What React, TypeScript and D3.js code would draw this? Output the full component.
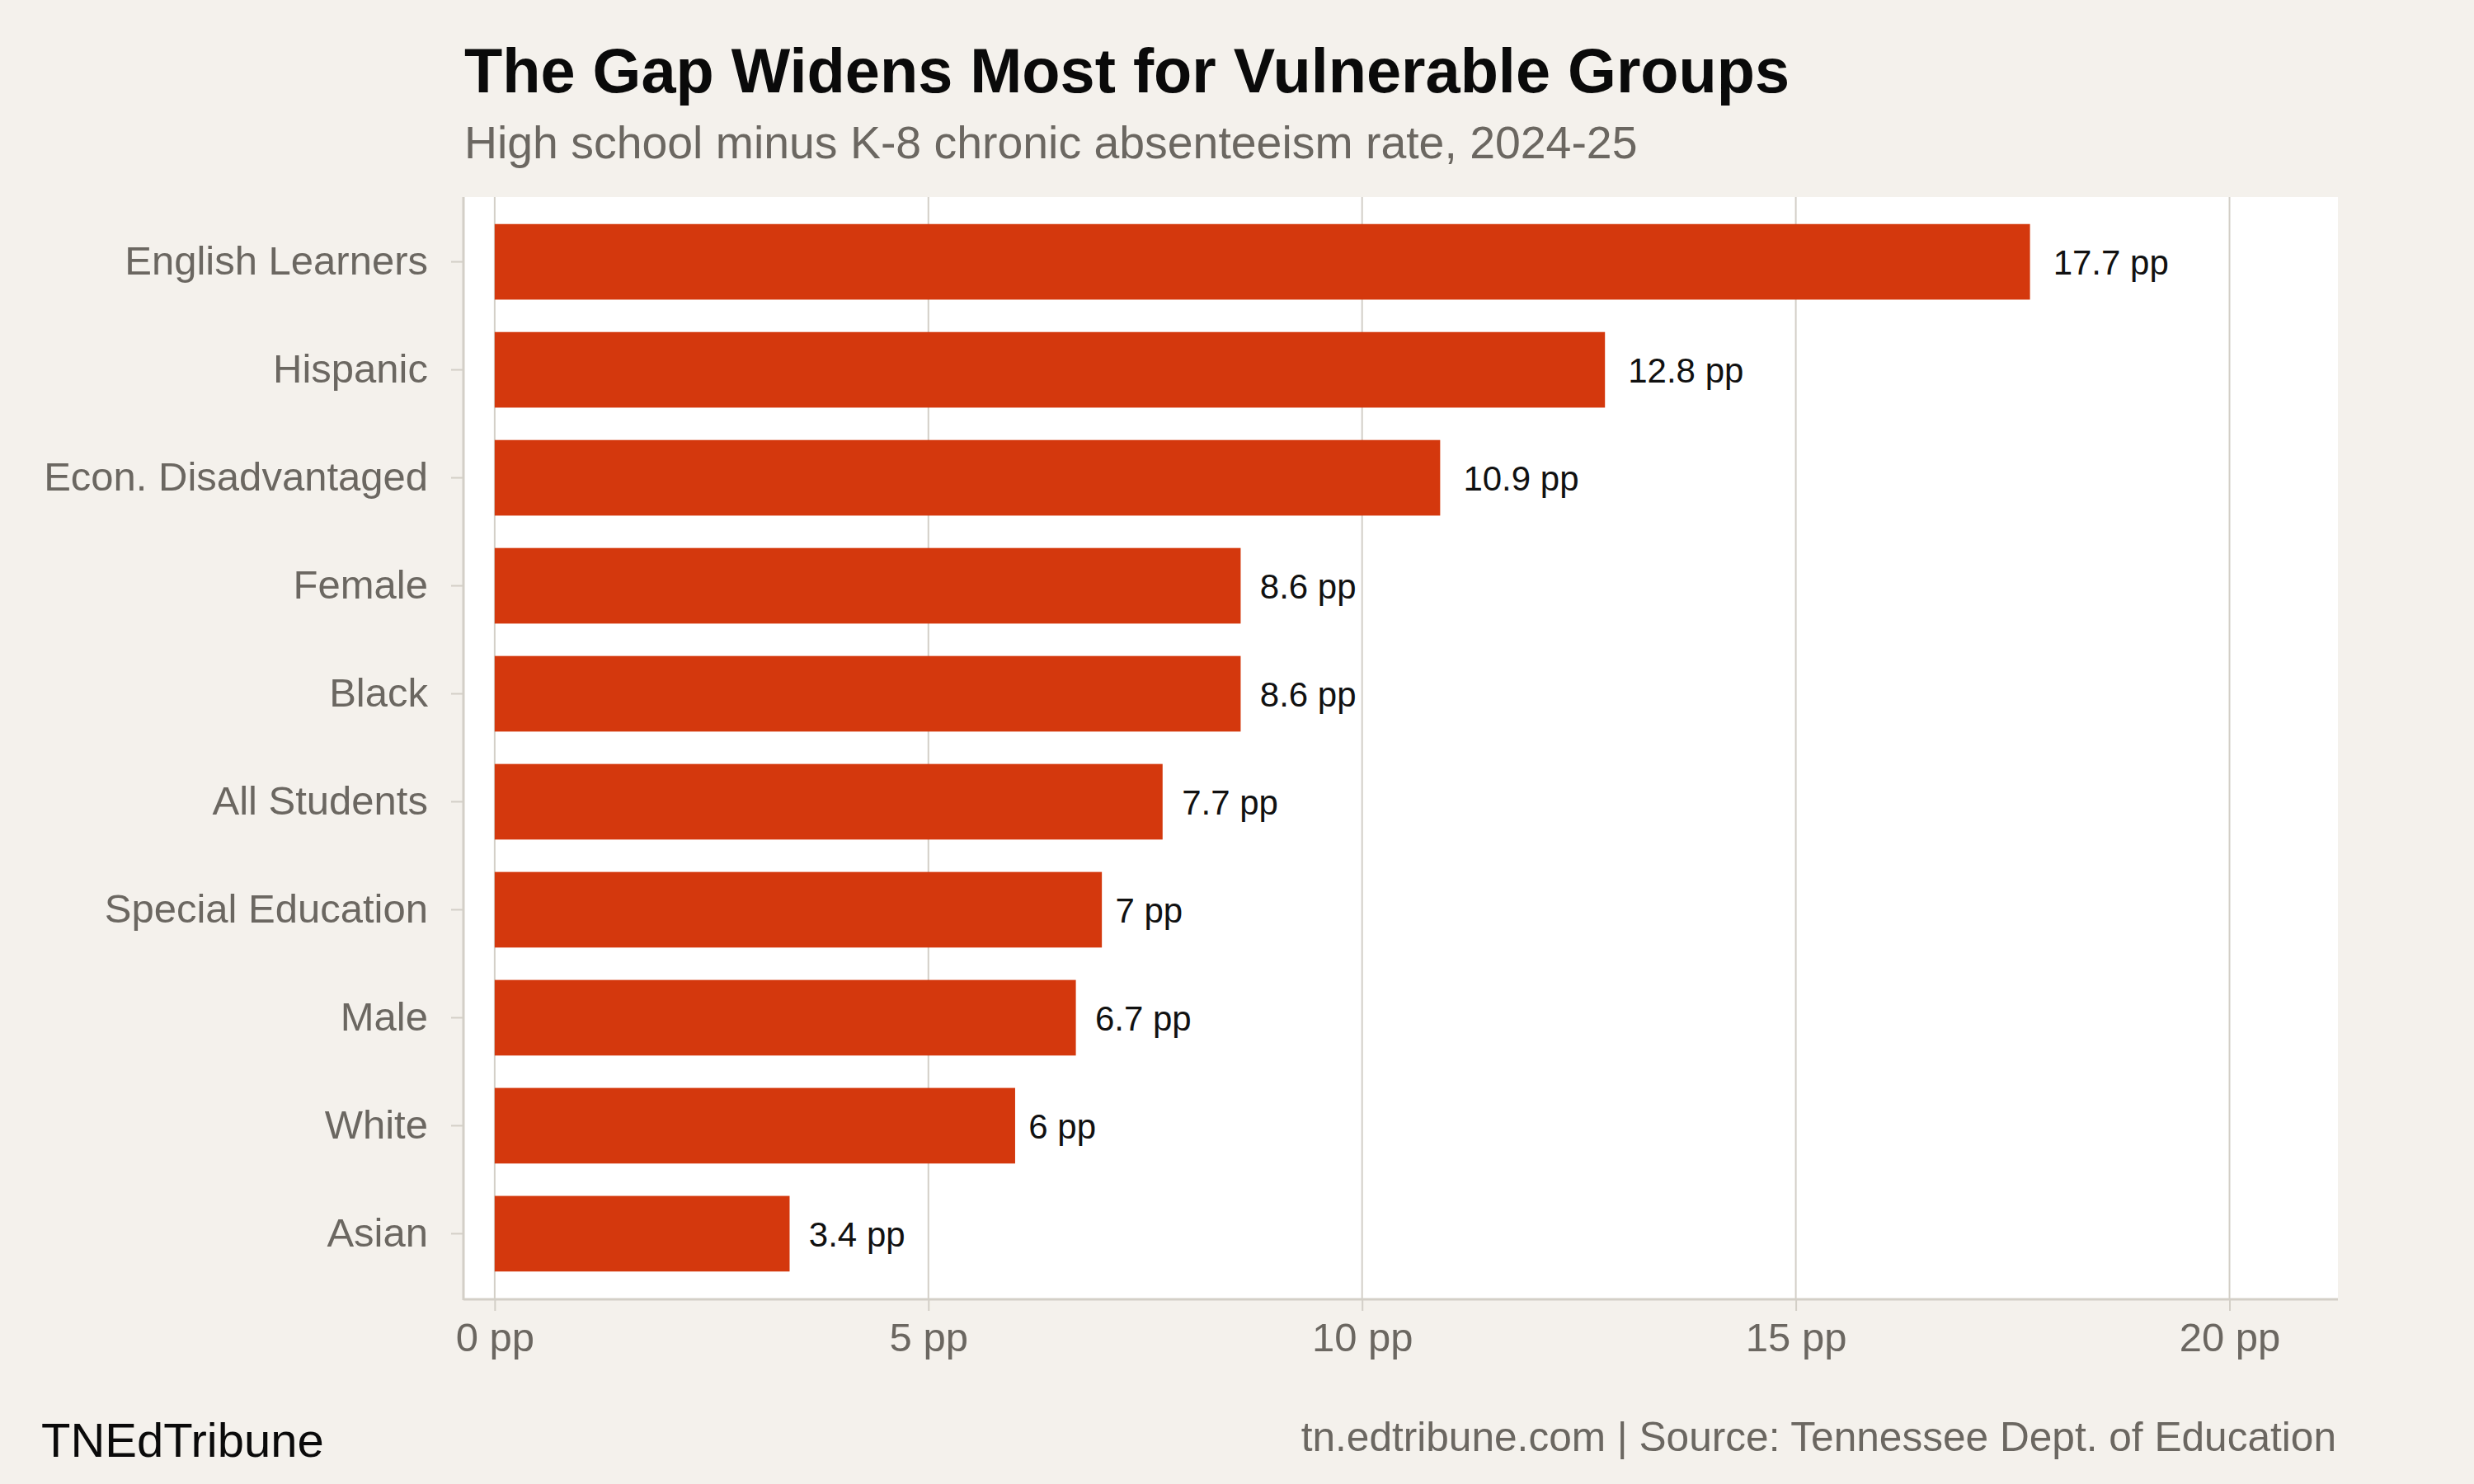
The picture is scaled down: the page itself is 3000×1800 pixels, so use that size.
import React, { useEffect, useRef } from 'react';
import * as d3 from 'd3';

const groups = [
  'English Learners',
  'Hispanic',
  'Econ. Disadvantaged',
  'Female',
  'Black',
  'All Students',
  'Special Education',
  'Male',
  'White',
  'Asian',
];
const gaps = [17.7, 12.8, 10.9, 8.6, 8.6, 7.7, 7, 6.7, 6, 3.4];
const xTicks = [0, 5, 10, 15, 20];

const title = 'The Gap Widens Most for Vulnerable Groups';
const subtitle = 'High school minus K-8 chronic absenteeism rate, 2024-25';
const brand = 'TNEdTribune';
const caption = 'tn.edtribune.com | Source: Tennessee Dept. of Education';

const W = 3000;
const H = 1800;
const FONT = '"Liberation Sans", Arial, Helvetica, sans-serif';
const BG = '#F4F1EC';
const GRID = '#D3CFC7';
const BAR = '#D4380D';
const MUTED = '#6B6761';

const App = () => {
  const ref = useRef<SVGSVGElement>(null);

  useEffect(() => {
    document.body.style.margin = '0';
    const svg = d3.select(ref.current);
    svg.selectAll('*').remove();

    // panel bounds
    const left = 562;
    const right = 2835;
    const top = 239;
    const bottom = 1575;

    const x = d3.scaleLinear().domain([-0.36, 21.25]).range([left, right]);
    const y = d3
      .scaleBand()
      .domain(groups)
      .range([top, bottom])
      .paddingInner(0.3)
      .paddingOuter(0.25);

    const rows = groups.map((g, i) => ({ g, v: gaps[i] }));

    svg.append('rect').attr('width', W).attr('height', H).attr('fill', BG);

    // panel
    svg
      .append('rect')
      .attr('x', left)
      .attr('y', top)
      .attr('width', right - left)
      .attr('height', bottom - top)
      .attr('fill', '#ffffff');

    // gridlines
    svg
      .append('g')
      .selectAll('line')
      .data(xTicks)
      .enter()
      .append('line')
      .attr('x1', (d) => x(d))
      .attr('x2', (d) => x(d))
      .attr('y1', top)
      .attr('y2', bottom)
      .attr('stroke', GRID)
      .attr('stroke-width', 2);

    // bars
    svg
      .append('g')
      .selectAll('rect')
      .data(rows)
      .enter()
      .append('rect')
      .attr('x', x(0))
      .attr('y', (d) => y(d.g) as number)
      .attr('width', (d) => x(d.v) - x(0))
      .attr('height', y.bandwidth())
      .attr('fill', BAR);

    // value labels, pushed right by a fifth of their own width (hjust -0.2)
    svg
      .append('g')
      .selectAll('text')
      .data(rows)
      .enter()
      .append('text')
      .attr('y', (d) => (y(d.g) as number) + y.bandwidth() / 2)
      .attr('dy', '0.36em')
      .style('font-family', FONT)
      .style('font-size', '42px')
      .attr('fill', '#111111')
      .text((d) => `${d.v} pp`)
      .attr('x', function (d) {
        const w = (this as SVGTextElement).getComputedTextLength();
        return x(d.v) + 0.2 * w;
      });

    // x axis
    const xAxis = svg
      .append('g')
      .attr('transform', `translate(0, ${bottom})`)
      .call(
        d3
          .axisBottom(x)
          .tickValues(xTicks)
          .tickSize(15)
          .tickPadding(14)
          .tickFormat((d) => `${d} pp`)
      );
    xAxis.select('.domain').remove();
    xAxis
      .append('line')
      .attr('x1', left)
      .attr('x2', right)
      .attr('y1', 1)
      .attr('y2', 1)
      .attr('stroke', GRID)
      .attr('stroke-width', 3);
    xAxis.selectAll('.tick line').attr('stroke', GRID).attr('stroke-width', 2);
    xAxis
      .selectAll('.tick text')
      .attr('fill', MUTED)
      .style('font-family', FONT)
      .style('font-size', '49px');

    // y axis
    const yAxis = svg
      .append('g')
      .attr('transform', `translate(${left}, 0)`)
      .call(d3.axisLeft(y).tickSize(15).tickPadding(28));
    yAxis.select('.domain').remove();
    yAxis
      .append('line')
      .attr('x1', 0)
      .attr('x2', 0)
      .attr('y1', top)
      .attr('y2', bottom + 2)
      .attr('stroke', GRID)
      .attr('stroke-width', 3);
    yAxis.selectAll('.tick line').attr('stroke', GRID).attr('stroke-width', 2);
    yAxis
      .selectAll('.tick text')
      .attr('fill', MUTED)
      .style('font-family', FONT)
      .style('font-size', '49px');

    // titles
    svg
      .append('text')
      .attr('x', 563)
      .attr('y', 112)
      .style('font-family', FONT)
      .style('font-size', '75.7px')
      .style('font-weight', 'bold')
      .attr('fill', '#0A0A0A')
      .text(title);

    svg
      .append('text')
      .attr('x', 563)
      .attr('y', 192)
      .style('font-family', FONT)
      .style('font-size', '55.4px')
      .attr('fill', MUTED)
      .text(subtitle);

    // footer
    svg
      .append('text')
      .attr('x', 50)
      .attr('y', 1767)
      .style('font-family', FONT)
      .style('font-size', '58px')
      .attr('fill', '#0A0A0A')
      .text(brand);

    svg
      .append('text')
      .attr('x', 2833)
      .attr('y', 1760)
      .attr('text-anchor', 'end')
      .style('font-family', FONT)
      .style('font-size', '49.6px')
      .attr('fill', MUTED)
      .text(caption);
  }, []);

  return <svg ref={ref} width={W} height={H} style={{ display: 'block' }}></svg>;
};

export default App;
